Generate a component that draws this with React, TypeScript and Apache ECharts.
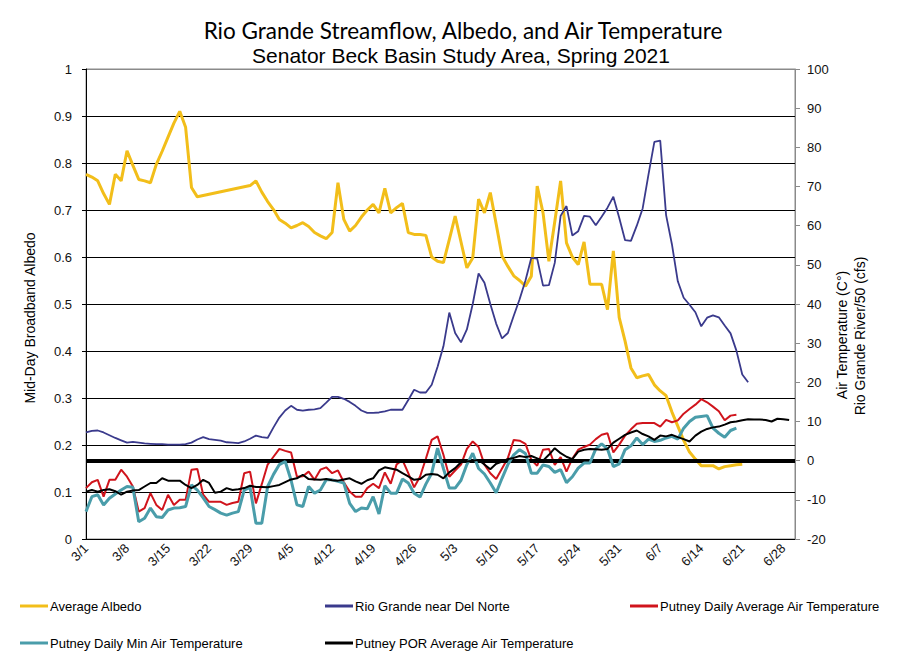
import React, { useEffect, useRef } from "react";
import * as echarts from "echarts";

// ---------- data ----------
const monthLengths: [number, number][] = [[3, 31], [4, 30], [5, 31], [6, 30]];
const dates: string[] = [];
monthLengths.forEach(([m, n]) => {
  for (let d = 1; d <= n; d++) dates.push(`${m}/${d}`);
});

const albedo: (number | null)[] = [
  0.776, 0.77, 0.762, 0.735, 0.712, 0.776, 0.762, 0.826, 0.795, 0.765,
  0.762, 0.758, 0.797, 0.825, 0.855, 0.885, 0.91, 0.876, 0.748, 0.728,
  null, null, null, null, null, null, null, null, 0.752, 0.762,
  0.738, 0.718, 0.701, 0.68, 0.672, 0.662, 0.667, 0.673, 0.665, 0.652,
  0.645, 0.639, 0.652, 0.758, 0.68, 0.655, 0.667, 0.685, 0.7, 0.712,
  0.694, 0.746, 0.694, 0.705, 0.714, 0.652, 0.648, 0.648, 0.646, 0.6,
  0.591, 0.588, 0.637, 0.687, 0.632, 0.577, 0.598, 0.723, 0.694, 0.737,
  0.67, 0.602, 0.58, 0.56, 0.55, 0.538, 0.559, 0.751, 0.694, 0.591,
  0.675, 0.762, 0.63, 0.6, 0.584, 0.632, 0.542, 0.542, 0.542, 0.488,
  0.613, 0.471, 0.421, 0.364, 0.343, 0.347, 0.35, 0.328, 0.315, 0.305,
  0.27, 0.24, 0.21, 0.185, 0.17, 0.156, 0.156, 0.156, 0.149, 0.154,
  0.156, 0.158, 0.159,
];

const rioGrande: number[] = [
  7.2, 7.6, 7.7, 7.2, 6.5, 5.8, 5.2, 4.6, 4.8, 4.6,
  4.4, 4.3, 4.2, 4.2, 4.1, 4.1, 4.1, 4.2, 4.6, 5.4,
  6.0, 5.5, 5.3, 5.1, 4.7, 4.6, 4.5, 4.9, 5.6, 6.4,
  6.0, 5.8, 8.5, 11.0, 12.8, 14.0, 13.0, 12.8, 13.0, 13.1,
  13.4, 14.8, 16.3, 16.3, 15.8, 15.0, 14.0, 12.8, 12.2, 12.2,
  12.3, 12.6, 13.0, 13.0, 13.0, 15.5, 18.1, 17.4, 17.4, 19.4,
  24.0, 29.2, 37.8, 32.6, 30.2, 33.5, 40.0, 47.8, 45.4, 40.0,
  35.0, 31.2, 32.6, 37.0, 41.2, 46.0, 51.8, 51.6, 44.7, 44.8,
  50.5, 62.5, 65.0, 57.5, 58.6, 62.5, 62.3, 60.1, 62.3, 64.6,
  67.4, 62.0, 56.3, 56.1, 60.0, 64.4, 73.1, 81.4, 81.7, 62.7,
  55.2, 45.8, 41.6, 39.8, 37.9, 34.3, 36.5, 37.1, 36.6, 34.5,
  32.5, 28.1, 22.0, 20.0,
];

const dailyAvgTemp: number[] = [
  -7.0, -5.5, -4.9, -9.2, -4.9, -4.9, -2.3, -4.1, -6.6, -13.0,
  -12.1, -8.3, -11.3, -12.6, -8.7, -11.3, -10.0, -10.0, -2.3, -2.1,
  -8.7, -10.5, -10.5, -10.5, -11.3, -10.8, -10.5, -3.2, -2.8, -10.9,
  -6.0, -1.0, 1.0, 3.0, 2.5, 2.1, -4.1, -4.0, -2.8, -4.9,
  -2.3, -1.7, -3.2, -2.5, -5.5, -7.9, -9.2, -9.2, -7.0, -5.9,
  -7.0, -3.0, -5.9, -1.0, 0.2, -3.2, -6.8, -4.1, 0.5, 5.3,
  6.2, 1.5, -4.1, -2.5, -1.0, 3.0, 4.9, 3.5, -1.0, -3.2,
  -4.7, -2.0, 0.7, 5.3, 5.1, 4.3, 0.2, -1.3, 2.8, 3.0,
  -1.1, 0.9, -2.8, 0.5, 2.8, 3.5, 4.1, 5.5, 6.6, 7.0,
  2.1, 4.1, 6.4, 8.0, 9.4, 9.6, 9.6, 9.6, 8.7, 10.4,
  9.8, 10.3, 12.0, 13.2, 14.3, 15.7, 14.9, 13.8, 12.6, 10.3,
  11.5, 11.7,
];

const dailyMinTemp: number[] = [
  -13.0, -9.2, -8.7, -11.3, -9.6, -8.5, -7.5, -6.6, -6.8, -15.6,
  -14.7, -12.1, -14.3, -14.5, -12.6, -12.1, -12.0, -11.7, -6.2, -7.5,
  -9.5, -11.7, -12.5, -13.4, -13.9, -13.4, -13.0, -7.5, -6.8, -16.0,
  -16.0, -6.6, -3.5, -1.0, -0.2, -5.0, -11.3, -11.7, -6.6, -8.3,
  -7.5, -4.9, -4.9, -5.3, -5.7, -10.9, -13.0, -12.1, -12.3, -9.2,
  -13.6, -6.4, -8.3, -8.3, -4.7, -5.7, -8.3, -9.3, -6.0, -3.2,
  3.2, -2.0, -7.0, -7.0, -5.0, -1.0, 1.9, -2.0, -3.4, -5.7,
  -8.2, -4.5, -1.0, 1.5, 2.8, 1.8, -3.2, -3.2, -1.1, -1.5,
  -3.0, -2.3, -5.6, -4.1, -1.9, -0.6, -0.6, 3.0, 4.3, 3.0,
  -1.5, -0.8, 2.8, 3.8, 5.8, 4.1, 5.5, 4.9, 5.2, 5.8,
  6.2, 5.5, 8.3, 10.0, 11.1, 11.3, 11.5, 8.3, 7.0, 6.0,
  7.7, 8.3,
];

const porAvgTemp: number[] = [
  -7.9, -7.5, -7.9, -7.5, -7.3, -7.8, -8.7, -7.9, -7.6, -7.5,
  -6.6, -5.7, -5.7, -4.5, -5.1, -5.1, -5.1, -6.2, -7.0, -6.2,
  -4.9, -5.7, -8.2, -7.9, -7.0, -7.5, -7.3, -7.0, -6.4, -6.7,
  -6.7, -6.8, -6.5, -6.2, -5.5, -4.8, -4.5, -3.6, -4.7, -4.8,
  -4.9, -4.7, -5.0, -5.1, -4.8, -4.5, -5.3, -5.9, -5.0, -4.5,
  -2.5, -1.7, -2.0, -2.3, -3.2, -4.0, -4.9, -4.7, -3.6, -3.4,
  -3.6, -4.5, -3.0, -1.9, -0.4, -0.2, 0.0, 0.2, -1.0, -2.2,
  -0.8, -0.2, 0.4, 0.7, 1.2, 0.9, 1.2, 0.6, 0.0, 1.5,
  3.2, 1.9, 1.0, 0.4, 2.3, 2.8, 3.0, 2.9, 2.8, 3.0,
  4.6, 5.6, 6.6, 7.2, 7.7, 6.8, 6.2, 5.3, 6.4, 6.2,
  6.6, 6.0, 5.5, 4.9, 6.4, 7.4, 8.1, 8.5, 8.7, 9.2,
  9.8, 10.0, 10.3, 10.6, 10.5, 10.5, 10.4, 10.0, 10.7, 10.6,
  10.4,
];

const seriesNames = [
  "Average Albedo",
  "Rio Grande near Del Norte",
  "Putney Daily Average Air Temperature",
  "Putney Daily Min Air Temperature",
  "Putney POR Average Air Temperature",
];

const titleLine1 = "Rio Grande Streamflow, Albedo, and Air Temperature";
const titleLine2 = "Senator Beck Basin Study Area, Spring 2021";
const leftAxisName = "Mid-Day Broadband Albedo";
const rightAxisName1 = "Air Temperature (C°)";
const rightAxisName2 = "Rio Grande River/50 (cfs)";

// ---------- styling ----------
const COLORS = ["#F2BE1A", "#3A3A8C", "#D0141C", "#4A9DAA", "#000000"];
const AXIS_FONT = "'Liberation Sans', Arial, sans-serif";
const LEGEND_POS = [
  [20, 606],
  [325, 606],
  [630, 606],
  [20, 643],
  [325, 643],
];

export default function App() {
  const ref = useRef<HTMLDivElement>(null);

  useEffect(() => {
    if (!ref.current) return;
    const chart = echarts.init(ref.current, undefined, { renderer: "svg" });

    const gridColors = ["#000", "#000", "#000", "#000", "#000", "#000", "#000", "#000", "#000", "#000", "#8a8a8a"];

    const lineSeries = (idx: number, data: (number | null)[], yAxisIndex: number, width: number, extra: any = {}) => ({
      name: seriesNames[idx],
      type: "line",
      yAxisIndex,
      data,
      showSymbol: false,
      symbol: "none",
      connectNulls: true,
      lineStyle: { color: COLORS[idx], width },
      itemStyle: { color: COLORS[idx] },
      z: 2 + idx,
      ...extra,
    });

    const legendGraphics = seriesNames.map((name, i) => ({
      type: "group",
      x: LEGEND_POS[i][0],
      y: LEGEND_POS[i][1],
      children: [
        {
          type: "line",
          shape: { x1: 0, y1: 0, x2: 28, y2: 0 },
          style: { stroke: COLORS[i], lineWidth: 3 },
        },
        {
          type: "text",
          x: 30,
          y: 0,
          style: {
            text: name,
            fontFamily: AXIS_FONT,
            fontSize: 13,
            fill: "#000",
            textAlign: "left",
            textVerticalAlign: "middle",
          },
        },
      ],
    }));

    const textEl = (text: string, x: number, y: number, size: number, font: string, rot = 0) => ({
      type: "text",
      x,
      y,
      rotation: rot,
      style: {
        text,
        fontFamily: font,
        fontSize: size,
        fill: "#000",
        textAlign: "center",
        textVerticalAlign: "middle",
      },
    });

    chart.setOption({
      animation: false,
      backgroundColor: "#ffffff",
      grid: {
        left: 86,
        right: 116,
        top: 69,
        bottom: 122,
        show: true,
        borderColor: "#8a8a8a",
        borderWidth: 1,
        backgroundColor: "#ffffff",
      },
      xAxis: {
        type: "category",
        data: dates,
        boundaryGap: false,
        axisLine: { lineStyle: { color: "#000", width: 1 } },
        axisTick: { show: false },
        splitLine: { show: false },
        axisLabel: {
          interval: 6,
          rotate: 45,
          margin: 7,
          fontFamily: AXIS_FONT,
          fontSize: 13,
          color: "#111",
        },
      },
      yAxis: [
        {
          type: "value",
          min: 0,
          max: 1,
          interval: 0.1,
          position: "left",
          axisLine: { show: true, lineStyle: { color: "#000", width: 1 } },
          axisTick: { show: true, length: 4, lineStyle: { color: "#000" } },
          splitLine: { show: true, lineStyle: { color: gridColors, width: 1 } },
          axisLabel: {
            margin: 14,
            fontFamily: AXIS_FONT,
            fontSize: 13,
            color: "#111",
            formatter: (v: number) => String(Math.round(v * 10) / 10),
          },
        },
        {
          type: "value",
          min: -20,
          max: 100,
          interval: 10,
          position: "right",
          axisLine: { show: true, lineStyle: { color: "#8a8a8a", width: 1 } },
          axisTick: { show: true, length: 5, lineStyle: { color: "#8a8a8a" } },
          splitLine: { show: false },
          axisLabel: {
            margin: 12,
            fontFamily: AXIS_FONT,
            fontSize: 13,
            color: "#111",
          },
        },
      ],
      series: [
        lineSeries(0, albedo, 0, 3),
        lineSeries(1, rioGrande, 1, 1.8),
        lineSeries(2, dailyAvgTemp, 1, 2),
        lineSeries(3, dailyMinTemp, 1, 3),
        lineSeries(4, porAvgTemp, 1, 2, {
          markLine: {
            silent: true,
            symbol: "none",
            label: { show: false },
            lineStyle: { color: "#000", width: 4, type: "solid" },
            data: [{ yAxis: 0 }],
          },
        }),
      ],
      graphic: [
        textEl(titleLine1, 463, 30, 22.5, "Lato, 'Open Sans', sans-serif"),
        textEl(titleLine2, 461, 55, 21, AXIS_FONT),
        textEl(leftAxisName, 30, 318, 14, AXIS_FONT, Math.PI / 2),
        textEl(rightAxisName1, 842, 335, 14, AXIS_FONT, Math.PI / 2),
        textEl(rightAxisName2, 860, 336, 14, AXIS_FONT, Math.PI / 2),
        ...legendGraphics,
      ],
    });

    return () => chart.dispose();
  }, []);

  return <div ref={ref} style={{ width: 911, height: 661, position: "absolute", left: 0, top: 0 }} />;
}
